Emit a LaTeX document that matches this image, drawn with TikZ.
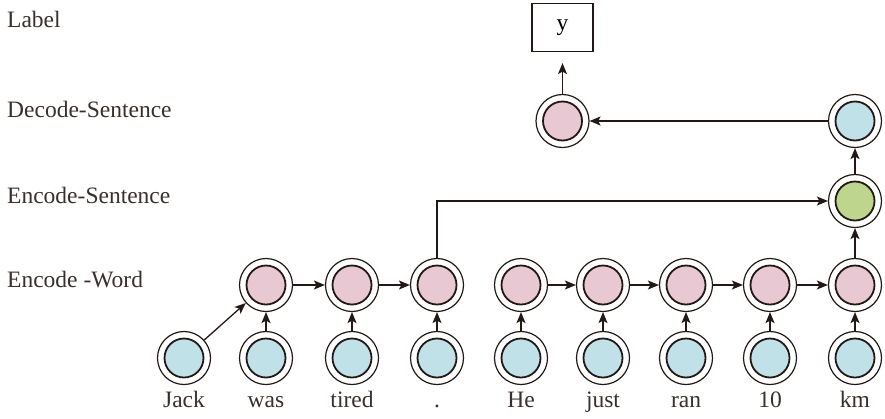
\documentclass[tikz,border=0pt]{standalone}
\usepackage{fontspec}
\setmainfont{Liberation Serif}
\usetikzlibrary{arrows.meta}
\definecolor{pinkc}{HTML}{E8C9D3}
\definecolor{bluec}{HTML}{C1E1E9}
\definecolor{greenc}{HTML}{BDD58C}
\definecolor{inkc}{HTML}{231815}
\begin{document}
\begin{tikzpicture}[x=1pt,y=-1pt,
  cell/.style={circle, draw=inkc, line width=1.2pt, minimum size=53pt, inner sep=0pt, fill=white,
    path picture={\draw[fill=#1, draw=inkc, line width=1.8pt] (path picture bounding box.center) circle (19.5pt);}},
  conn/.style={draw=inkc, line width=1.3pt, -{Stealth[length=11pt,width=9pt,inset=2.5pt]}},
  lbl/.style={font=\fontsize{23.5}{28}\selectfont, text=inkc!90, inner sep=0pt},
  boxst/.style={draw=inkc, line width=1.2pt, minimum width=61pt, minimum height=48pt, inner sep=0pt, font=\fontsize{23.5}{28}\selectfont}
]
\useasboundingbox (0,0) rectangle (885,418);

% left labels
\node[lbl, anchor=base west] (lLabel) at (7,27) {Label};
\node[lbl, anchor=base west] (lDec) at (7,117) {Decode-Sentence};
\node[lbl, anchor=base west] (lEncS) at (7,203) {Encode-Sentence};
\node[lbl, anchor=base west] (lEncW) at (7,287) {Encode -Word};

% bottom inputs
\foreach \i/\x/\t in {1/184/Jack, 2/266/was, 3/352/tired, 4/437/., 5/521/He, 6/603/just, 7/686/ran, 8/770/10, 9/855/km}{
  \node[cell=bluec] (b\i) at (\x,358) {};
  \node[lbl, anchor=base] (t\i) at (\x,407) {\t};
}
% word encoders
\foreach \i/\x in {2/266, 3/352, 4/437, 5/521, 6/603, 7/686, 8/770, 9/855}{
  \node[cell=pinkc] (w\i) at (\x,285) {};
}
% sentence levels
\node[cell=greenc] (es) at (855,201) {};
\node[cell=bluec] (ds) at (855,121) {};
\node[cell=pinkc] (dp) at (562.5,121) {};
\node[boxst] (y) at (562.5,27.5) {y};

% connectors
\draw[conn] (b1) -- (w2);
\foreach \i in {2,...,9}{
  \draw[conn] (b\i) -- (w\i);
}
\draw[conn] (w2) -- (w3);
\draw[conn] (w3) -- (w4);
\draw[conn] (w5) -- (w6);
\draw[conn] (w6) -- (w7);
\draw[conn] (w7) -- (w8);
\draw[conn] (w8) -- (w9);
\draw[conn] (w4) |- (es);
\draw[conn] (w9) -- (es);
\draw[conn] (es) -- (ds);
\draw[conn] (ds) -- (dp);
\draw[conn, shorten >=11pt] (dp) -- (y);
\end{tikzpicture}
\end{document}
